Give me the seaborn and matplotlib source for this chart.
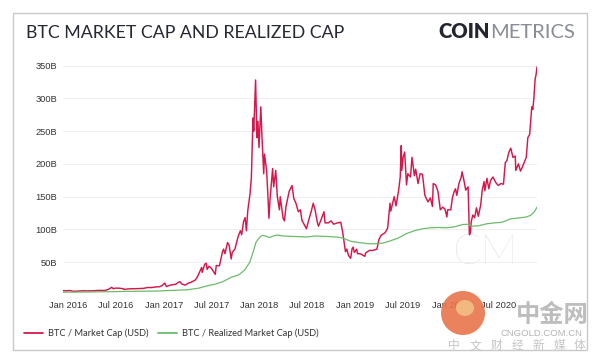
import pandas as pd
import numpy as np
import matplotlib
matplotlib.use("Agg")
import matplotlib.pyplot as plt
import matplotlib.patches as patches
import matplotlib.dates as mdates
import seaborn as sns

# BTC market cap, billions USD
mcap_dates = [
    "2015-12-13", "2015-12-27", "2016-01-10", "2016-01-17", "2016-01-31", "2016-02-14",
    "2016-02-28", "2016-03-13", "2016-03-27", "2016-04-10", "2016-04-24", "2016-05-08",
    "2016-05-22", "2016-05-29", "2016-06-05", "2016-06-16", "2016-06-22", "2016-07-01",
    "2016-07-15", "2016-07-31", "2016-08-02", "2016-08-15", "2016-09-01", "2016-09-15",
    "2016-10-01", "2016-10-15", "2016-11-01", "2016-11-15", "2016-12-01", "2016-12-15",
    "2016-12-25", "2017-01-04", "2017-01-11", "2017-01-20", "2017-02-01", "2017-02-15",
    "2017-02-24", "2017-03-03", "2017-03-11", "2017-03-24", "2017-04-01", "2017-04-15",
    "2017-05-01", "2017-05-10", "2017-05-25", "2017-05-27", "2017-06-06", "2017-06-12",
    "2017-06-15", "2017-06-22", "2017-07-01", "2017-07-16", "2017-07-20", "2017-08-01",
    "2017-08-13", "2017-08-17", "2017-08-22", "2017-09-01", "2017-09-07", "2017-09-15",
    "2017-09-19", "2017-09-29", "2017-10-12", "2017-10-20", "2017-10-25", "2017-11-01",
    "2017-11-07", "2017-11-12", "2017-11-17", "2017-11-26", "2017-11-29", "2017-12-01",
    "2017-12-07", "2017-12-10", "2017-12-17", "2017-12-22", "2017-12-26", "2017-12-30",
    "2018-01-06", "2018-01-10", "2018-01-17", "2018-01-20", "2018-01-28", "2018-02-01",
    "2018-02-06", "2018-02-10", "2018-02-20", "2018-02-24", "2018-03-04", "2018-03-10",
    "2018-03-18", "2018-03-21", "2018-04-01", "2018-04-06", "2018-04-12", "2018-04-24",
    "2018-05-05", "2018-05-12", "2018-05-20", "2018-05-29", "2018-06-06", "2018-06-12",
    "2018-06-24", "2018-06-29", "2018-07-09", "2018-07-17", "2018-07-25", "2018-08-01",
    "2018-08-10", "2018-08-14", "2018-08-24", "2018-09-04", "2018-09-08", "2018-09-20",
    "2018-10-01", "2018-10-11", "2018-10-25", "2018-11-07", "2018-11-14", "2018-11-20",
    "2018-11-25", "2018-11-30", "2018-12-07", "2018-12-15", "2018-12-20", "2018-12-24",
    "2018-12-29", "2019-01-07", "2019-01-10", "2019-01-20", "2019-02-07", "2019-02-10",
    "2019-02-24", "2019-03-10", "2019-03-25", "2019-04-02", "2019-04-10", "2019-04-25",
    "2019-05-05", "2019-05-14", "2019-05-17", "2019-05-30", "2019-06-06", "2019-06-16",
    "2019-06-22", "2019-06-26", "2019-06-28", "2019-07-03", "2019-07-09", "2019-07-16",
    "2019-07-21", "2019-07-31", "2019-08-06", "2019-08-15", "2019-08-20", "2019-08-29",
    "2019-09-06", "2019-09-15", "2019-09-24", "2019-10-06", "2019-10-15", "2019-10-23",
    "2019-10-26", "2019-11-04", "2019-11-13", "2019-11-22", "2019-12-01", "2019-12-10",
    "2019-12-17", "2019-12-20", "2020-01-01", "2020-01-07", "2020-01-14", "2020-01-19",
    "2020-01-24", "2020-02-01", "2020-02-10", "2020-02-13", "2020-02-20", "2020-02-27",
    "2020-03-07", "2020-03-12", "2020-03-16", "2020-03-19", "2020-03-25", "2020-04-01",
    "2020-04-08", "2020-04-15", "2020-04-24", "2020-04-30", "2020-05-07", "2020-05-10",
    "2020-05-18", "2020-05-25", "2020-06-01", "2020-06-10", "2020-06-20", "2020-06-30",
    "2020-07-10", "2020-07-20", "2020-07-27", "2020-08-02", "2020-08-10", "2020-08-17",
    "2020-08-25", "2020-09-03", "2020-09-05", "2020-09-15", "2020-09-23", "2020-10-01",
    "2020-10-09", "2020-10-15", "2020-10-21", "2020-10-28", "2020-11-05", "2020-11-09",
    "2020-11-13", "2020-11-18", "2020-11-21", "2020-11-25",
]
mcap_values = [
    6.6, 6.5, 6.8, 5.8, 5.7, 6.1,
    6.5, 6.2, 6.3, 6.5, 7.0, 7.0,
    6.9, 8.0, 8.9, 11.8, 9.5, 10.5,
    10.4, 9.4, 8.4, 9.2, 9.6, 9.6,
    9.8, 10.1, 11.5, 11.3, 12.3, 12.6,
    14.3, 18.2, 12.8, 14.4, 15.6, 16.3,
    19.0, 20.4, 16.6, 15.0, 17.5, 19.5,
    22.8, 28.5, 42.0, 34.5, 47.0, 48.5,
    39.0, 44.0, 41.0, 31.5, 45.0, 44.5,
    66.5, 70.0, 63.0, 80.0, 76.0, 55.0,
    65.0, 70.0, 90.0, 98.0, 92.0, 112.0,
    118.0, 98.0, 128.0, 155.0, 170.0, 180.0,
    270.0, 250.0, 328.0, 240.0, 265.0, 225.0,
    287.0, 245.0, 185.0, 215.0, 190.0, 160.0,
    117.0, 145.0, 193.0, 165.0, 190.0, 150.0,
    130.0, 150.0, 117.0, 113.0, 135.0, 158.0,
    167.0, 147.0, 140.0, 127.0, 130.0, 114.0,
    105.0, 101.0, 116.0, 127.0, 140.0, 130.0,
    110.0, 105.0, 115.0, 127.0, 110.0, 110.0,
    113.0, 108.0, 110.0, 111.0, 97.0, 80.0,
    66.0, 70.0, 60.0, 56.0, 70.0, 73.0,
    65.0, 70.0, 63.0, 63.0, 59.0, 64.0,
    68.0, 68.0, 70.0, 85.0, 91.0, 95.0,
    102.0, 140.0, 128.0, 150.0, 136.0, 160.0,
    180.0, 228.0, 190.0, 210.0, 218.0, 168.0,
    185.0, 180.0, 210.0, 182.0, 192.0, 170.0,
    185.0, 184.0, 152.0, 142.0, 148.0, 135.0,
    170.0, 168.0, 158.0, 130.0, 134.0, 131.0,
    119.0, 130.0, 130.0, 148.0, 158.0, 162.0,
    152.0, 170.0, 180.0, 188.0, 175.0, 160.0,
    165.0, 92.0, 95.0, 112.0, 122.0, 118.0,
    133.0, 120.0, 137.0, 160.0, 173.0, 159.0,
    178.0, 162.0, 175.0, 180.0, 172.0, 167.0,
    170.0, 169.0, 202.0, 205.0, 218.0, 224.0,
    210.0, 212.0, 190.0, 200.0, 189.0, 196.0,
    204.0, 210.0, 240.0, 245.0, 287.0, 283.0,
    300.0, 330.0, 335.0, 348.0,
]

# BTC realized cap, billions USD
rcap_dates = [
    "2015-12-13", "2016-03-01", "2016-06-01", "2016-09-01", "2016-12-01", "2017-02-01",
    "2017-04-01", "2017-05-15", "2017-06-15", "2017-07-15", "2017-08-15", "2017-09-15",
    "2017-10-15", "2017-11-05", "2017-11-25", "2017-12-08", "2017-12-18", "2018-01-01",
    "2018-01-12", "2018-01-25", "2018-02-08", "2018-02-22", "2018-03-10", "2018-04-01",
    "2018-05-01", "2018-06-01", "2018-07-01", "2018-08-01", "2018-09-01", "2018-10-01",
    "2018-11-01", "2018-11-20", "2018-12-15", "2019-01-15", "2019-02-15", "2019-03-15",
    "2019-04-15", "2019-05-15", "2019-06-15", "2019-07-15", "2019-08-15", "2019-09-15",
    "2019-10-15", "2019-11-15", "2019-12-15", "2020-01-15", "2020-02-15", "2020-03-10",
    "2020-03-20", "2020-04-15", "2020-05-15", "2020-06-15", "2020-07-15", "2020-08-15",
    "2020-09-15", "2020-10-15", "2020-11-01", "2020-11-15", "2020-11-25",
]
rcap_values = [
    4.3, 4.5, 5.0, 5.6, 6.0, 7.0,
    8.0, 10.5, 14.0, 16.5, 20.5, 27.0,
    31.0, 38.0, 50.0, 66.0, 80.0, 88.0,
    91.0, 90.0, 87.5, 90.0, 91.5, 90.0,
    89.5, 89.0, 88.5, 90.0, 89.5, 89.0,
    88.0, 86.0, 82.0, 80.0, 78.5, 78.0,
    79.0, 82.5, 87.0, 93.5, 98.0, 101.0,
    102.5, 103.0, 102.5, 104.0, 107.5, 108.0,
    105.0, 105.5, 108.5, 110.0, 111.0, 116.0,
    117.5, 119.0, 121.5, 127.0, 134.0,
]

y_ticks = [50, 100, 150, 200, 250, 300, 350]
y_labels = ["50B", "100B", "150B", "200B", "250B", "300B", "350B"]
x_ticks = ["2016-01-01", "2016-07-01", "2017-01-01", "2017-07-01", "2018-01-01",
           "2018-07-01", "2019-01-01", "2019-07-01", "2020-01-01", "2020-07-01"]

series_names = ["BTC / Market Cap (USD)", "BTC / Realized Market Cap (USD)"]

df = pd.concat([
    pd.DataFrame({"date": pd.to_datetime(mcap_dates), "value": mcap_values, "series": series_names[0]}),
    pd.DataFrame({"date": pd.to_datetime(rcap_dates), "value": rcap_values, "series": series_names[1]}),
])

sns.set_style("white")
plt.rcParams["font.family"] = ["Liberation Sans", "DejaVu Sans"]

W, H = 600, 363
fig = plt.figure(figsize=(6, 3.63), dpi=100)

def fx(px):
    return px / W

def fy(py):
    return 1 - py / H

ax = fig.add_axes([fx(63), fy(295), fx(537) - fx(63), fy(59) - fy(295)])

colours = {series_names[0]: "#d5184b", series_names[1]: "#6cbb6c"}
sns.lineplot(data=df, x="date", y="value", hue="series", palette=colours,
             estimator=None, ax=ax, legend=False)
for line, lw in zip(ax.get_lines(), [1.05, 0.9]):
    line.set_linewidth(lw)

ax.set_xlim(pd.Timestamp(mcap_dates[0]), pd.Timestamp(mcap_dates[-1]))
ax.set_ylim(0, 360)
ax.set_yticks(y_ticks)
ax.set_yticklabels(y_labels)
ax.set_xticks(pd.to_datetime(x_ticks))
ax.xaxis.set_major_formatter(mdates.DateFormatter("%b %Y"))
ax.set_xlabel("")
ax.set_ylabel("")
ax.tick_params(axis="both", length=0, labelsize=6.7, labelcolor="#333333")
ax.tick_params(axis="y", pad=4.3)
ax.tick_params(axis="x", pad=4.5)
ax.grid(axis="y", color="#efefef", linewidth=0.7)
ax.grid(axis="x", visible=False)
for s in ax.spines.values():
    s.set_visible(False)

# faint CM watermark behind the lines
ax.text((485 - 63) / (537 - 63), (295 - 253) / (295 - 59), "CM",
        transform=ax.transAxes, ha="center", va="center", fontsize=30,
        family="Lato", fontweight="light", color="#d5d6e3", zorder=0)

# outer frame
fig.add_artist(patches.Rectangle((fx(12.5), fy(350)), fx(587) - fx(12.5), fy(12.5) - fy(350),
                                 transform=fig.transFigure, fill=False,
                                 edgecolor="#c9c9c9", linewidth=1.0))

fig.text(fx(26), fy(37.5), "BTC MARKET CAP AND REALIZED CAP", family="Lato",
         fontsize=12.8, color="#262833", ha="left", va="baseline")

renderer = fig.canvas.get_renderer()
t_met = fig.text(fx(575), fy(38.5), "METRICS", family="Lato",
                 fontsize=14.5, color="#8a8d96", ha="right", va="baseline")
bb = t_met.get_window_extent(renderer)
fig.text(bb.x0 / fig.bbox.width, fy(38.5), "COIN", family="Lato", fontweight="heavy",
         fontsize=14.5, color="#232530", ha="right", va="baseline")

# legend
handles = [plt.Line2D([], [], color=colours[n], linewidth=1.3) for n in series_names]
leg = fig.legend(handles, series_names, loc="center left", bbox_to_anchor=(fx(24), fy(333)),
                 ncol=2, frameon=False, borderpad=0, borderaxespad=0,
                 handlelength=2.0, handletextpad=0.6, columnspacing=1.0,
                 prop={"family": "Lato", "size": 6.7})
for t in leg.get_texts():
    t.set_color("#333333")

# cngold watermark
fig.add_artist(patches.Ellipse((fx(463), fy(313)), 44 / W, 44 / H, transform=fig.transFigure,
                               facecolor="#e8744b", edgecolor="none", alpha=0.9, zorder=10))
fig.add_artist(patches.Ellipse((fx(465), fy(308)), 18 / W, 16 / H, transform=fig.transFigure,
                               facecolor="#f4c889", edgecolor="none", alpha=0.8, zorder=11))
cjk = ["Noto Sans CJK SC", "DejaVu Sans"]
fig.text(fx(552), fy(314.5), "中金网", family=cjk, fontsize=17.5, fontweight="bold",
         color="#bdbdbd", ha="center", va="center", zorder=12)
fig.text(fx(541), fy(334), "CNGOLD.COM.CN", family="Liberation Sans", fontsize=6.8,
         color="#b5b5b5", ha="center", va="center", zorder=12)
for ch, px in zip("中文财经新媒体", np.linspace(454, 580, 7)):
    fig.text(fx(px), fy(345.5), ch, family=cjk, fontsize=8.5,
             color="#c4c4c4", ha="center", va="center", zorder=12)

fig.savefig("out.png", dpi=100)
